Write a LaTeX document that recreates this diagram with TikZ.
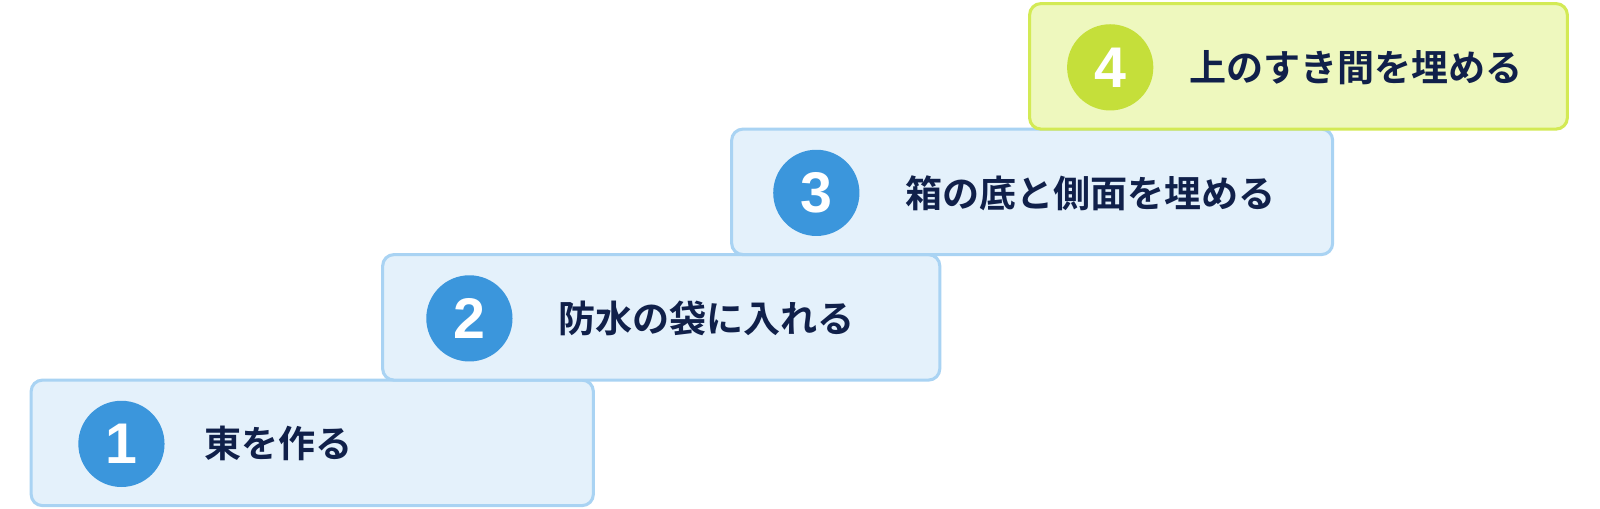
\documentclass[tikz,border=0pt]{standalone}
\usepackage{fontspec}
\newfontfamily\jpfont{Noto Sans CJK JP Bold}
\newfontfamily\numfont{Liberation Sans}
\definecolor{bfill}{HTML}{E4F1FB}
\definecolor{bline}{HTML}{A9D3F3}
\definecolor{bcirc}{HTML}{3B96DC}
\definecolor{gfill}{HTML}{EEF8BE}
\definecolor{gline}{HTML}{D3EA55}
\definecolor{gcirc}{HTML}{C5DF3A}
\definecolor{txt}{HTML}{10204A}
\begin{document}
\begin{tikzpicture}[x=0.7653pt,y=-0.7653pt,
  stepbox/.style={draw=bline,fill=bfill,line width=2.3pt,rounded corners=8.5pt,inner sep=0pt,minimum height=123*0.7653pt},
  greenbox/.style={stepbox,draw=gline,fill=gfill},
  numcirc/.style={circle,fill=bcirc,minimum size=84.5*0.7653pt,inner sep=0pt,text=white,font=\numfont\bfseries\fontsize{43}{43}\selectfont},
  gnumcirc/.style={numcirc,fill=gcirc},
  label/.style={anchor=west,inner sep=0pt,text=txt,font=\jpfont\fontsize{27.8}{28}\selectfont}]
\useasboundingbox[fill=white] (0,0) rectangle (1568,498.8);
% boxes
\node[stepbox,minimum width=551*0.7653pt] (b1) at (306,434) {};
\node[stepbox,minimum width=546*0.7653pt] (b2) at (648,311) {};
\node[stepbox,minimum width=589*0.7653pt] (b3) at (1011.5,188) {};
\node[greenbox,minimum width=527*0.7653pt] (b4) at (1272.5,65) {};
% circles
\node[numcirc] (c1) at (119,435) {1};
\node[numcirc] (c2) at (460,312) {2};
\node[numcirc] (c3) at (800,189) {3};
\node[gnumcirc] (c4) at (1088,66) {4};
% labels
\node[label] (t1) at (200,435) {東を作る};
\node[label] (t2) at (547,312) {防水の袋に入れる};
\node[label] (t3) at (887,189) {箱の底と側面を埋める};
\node[label] (t4) at (1165,66) {上のすき間を埋める};
\end{tikzpicture}
\end{document}
